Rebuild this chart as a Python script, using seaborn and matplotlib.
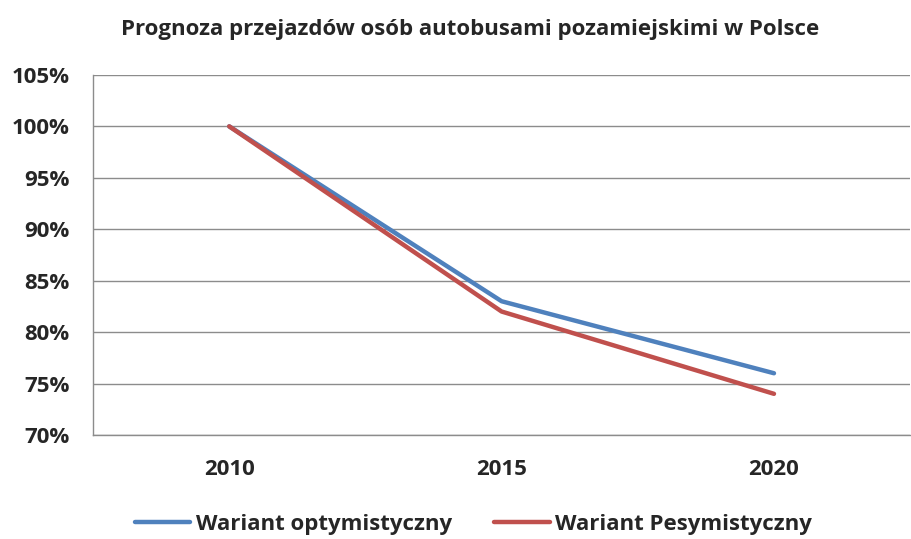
import matplotlib
matplotlib.use("Agg")
import matplotlib.pyplot as plt
import seaborn as sns
import pandas as pd
from matplotlib.ticker import FuncFormatter, MultipleLocator

years = ["2010", "2015", "2020"]
optymistyczny = [100, 83, 76]
pesymistyczny = [100, 82, 74]
series_names = ["Wariant optymistyczny", "Wariant Pesymistyczny"]
colors = ["#4F81BD", "#C0504D"]

df = pd.DataFrame({
    "rok": years * 2,
    "wartosc": optymistyczny + pesymistyczny,
    "wariant": [series_names[0]] * 3 + [series_names[1]] * 3,
})

sns.set_theme(style="white")
plt.rcParams['font.family'] = ['Open Sans', 'DejaVu Sans']

fig = plt.figure(figsize=(9.12, 5.39), dpi=100)
ax = fig.add_axes([0.102, 0.193, 0.896, 0.668])

sns.lineplot(data=df, x="rok", y="wartosc", hue="wariant", palette=colors,
             linewidth=3.2, sort=False, ax=ax, legend=True)

ax.set_xlim(-0.5, 2.5)
ax.set_ylim(70, 105)
ax.yaxis.set_major_locator(MultipleLocator(5))
ax.yaxis.set_major_formatter(FuncFormatter(lambda v, p: f"{int(round(v))}%"))
ax.grid(axis="y", color="#8c8c8c", linewidth=1)
ax.set_axisbelow(True)
for s in ["top", "right"]:
    ax.spines[s].set_visible(False)
for s in ["left", "bottom"]:
    ax.spines[s].set_color("#8c8c8c")
    ax.spines[s].set_linewidth(1)
ax.set_xlabel("")
ax.set_ylabel("")
ax.tick_params(axis="both", length=0, labelsize=16)
ax.tick_params(axis="y", pad=17)
ax.tick_params(axis="x", pad=17)
for lab in ax.get_xticklabels() + ax.get_yticklabels():
    lab.set_fontweight("bold")

handles, labels = ax.get_legend_handles_labels()
ax.legend(handles, labels, loc="center", bbox_to_anchor=(0.519, 0.027),
          bbox_transform=fig.transFigure, ncol=2, frameon=False,
          prop={"weight": "bold", "size": 16}, handlelength=2.5,
          handletextpad=0.25, columnspacing=1.9)

fig.text(0.516, 0.945, "Prognoza przejazdów osób autobusami pozamiejskimi w Polsce",
         ha="center", va="center", fontsize=16, fontweight="bold")

fig.savefig("out.png", dpi=100, facecolor="white")
